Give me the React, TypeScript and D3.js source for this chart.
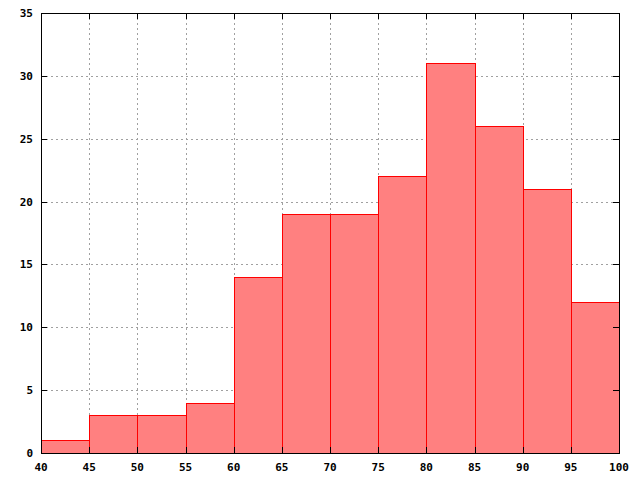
import React from "react";
import * as d3 from "d3";

const binStarts = [40, 45, 50, 55, 60, 65, 70, 75, 80, 85, 90, 95];
const counts = [1, 3, 3, 4, 14, 19, 19, 22, 31, 26, 21, 12];
const xTicks = [40, 45, 50, 55, 60, 65, 70, 75, 80, 85, 90, 95, 100];
const yTicks = [0, 5, 10, 15, 20, 25, 30, 35];
const binWidth = 5;

export default function App() {
  const W = 640, H = 480;
  const left = 41, right = 619, top = 13, bottom = 453;
  const x = d3.scaleLinear().domain([40, 100]).range([left, right]);
  const y = d3.scaleLinear().domain([0, 35]).range([bottom, top]);
  const px = (v: number) => Math.round(v) + 0.5;
  const font = "'DejaVu Sans Mono', monospace";
  return (
    <svg width={W} height={H} style={{ position: "absolute", left: 0, top: 0, background: "#fff" }}>
      <g stroke="#a0a0a0" strokeWidth={1} strokeDasharray="2,3">
        {xTicks.slice(1, -1).map((t) => (
          <line key={"gx" + t} x1={px(x(t))} x2={px(x(t))} y1={top} y2={bottom} />
        ))}
        {yTicks.slice(1, -1).map((t) => (
          <line key={"gy" + t} x1={left} x2={right} y1={px(y(t))} y2={px(y(t))} />
        ))}
      </g>
      <g>
        {binStarts.map((b, i) => {
          const x0 = px(x(b));
          const x1 = px(x(b + binWidth));
          const yv = px(y(counts[i]));
          return (
            <rect key={b} x={x0} y={yv} width={x1 - x0} height={px(bottom) - yv} fill="#ff8080" stroke="#ff0000" strokeWidth={1} />
          );
        })}
      </g>
      <rect x={px(left)} y={px(top)} width={right - left} height={bottom - top} fill="none" stroke="#000" strokeWidth={1} />
      <g stroke="#000" strokeWidth={1}>
        {yTicks.map((t) => {
          const yy = px(y(t));
          return (
            <g key={"ty" + t}>
              <line x1={left} x2={left + 6} y1={yy} y2={yy} />
              <line x1={right - 6} x2={right} y1={yy} y2={yy} />
            </g>
          );
        })}
        {xTicks.map((t) => {
          const xx = px(x(t));
          return (
            <g key={"tx" + t}>
              <line x1={xx} x2={xx} y1={bottom} y2={bottom - 6} />
              <line x1={xx} x2={xx} y1={top} y2={top + 6} />
            </g>
          );
        })}
      </g>
      <g fontFamily={font} fontWeight="bold" fontSize={11} fill="#000">
        {yTicks.map((t) => (
          <text key={"ly" + t} x={33} y={y(t) + 4} textAnchor="end">{t}</text>
        ))}
        {xTicks.map((t) => (
          <text key={"lx" + t} x={x(t)} y={471} textAnchor="middle">{t}</text>
        ))}
      </g>
    </svg>
  );
}
